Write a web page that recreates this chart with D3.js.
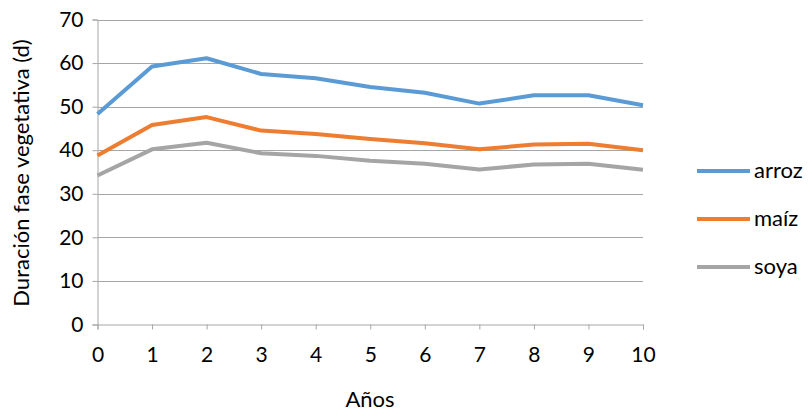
<!DOCTYPE html>
<html>
<head>
<meta charset="utf-8">
<title>Duración fase vegetativa</title>
<script src="https://cdn.jsdelivr.net/npm/d3@7"></script>
<style>
    body { margin: 0; background: #fff; }
    text { font-family: Lato, "Liberation Sans", sans-serif; fill: #000; }
</style>
</head>
<body>
<div id="vis"></div>
<script>
    var years = [0, 1, 2, 3, 4, 5, 6, 7, 8, 9, 10];
    var arroz = [48.3, 59.2, 61.1, 57.5, 56.5, 54.5, 53.2, 50.7, 52.6, 52.6, 50.3];
    var maiz  = [38.8, 45.8, 47.6, 44.5, 43.7, 42.6, 41.6, 40.2, 41.3, 41.5, 40.0];
    var soya  = [34.2, 40.2, 41.7, 39.3, 38.7, 37.6, 36.9, 35.6, 36.7, 36.9, 35.5];
    var seriesNames = ["arroz", "maíz", "soya"];
    var yTicks = [0, 10, 20, 30, 40, 50, 60, 70];

    var series = [
        {name: seriesNames[0], values: arroz, color: "#5b9bd5"},
        {name: seriesNames[1], values: maiz, color: "#ed7d31"},
        {name: seriesNames[2], values: soya, color: "#a5a5a5"}
    ];

    var width = 811, height = 411;
    var plotLeft = 97.5, plotRight = 643, plotTop = 19.5, plotBottom = 324.5;
    var fontSize = 21;

    var svg = d3.select("#vis").append("svg")
        .attr("width", width)
        .attr("height", height);

    var x = d3.scaleLinear().domain([0, 10]).range([plotLeft, plotRight]);
    var y = d3.scaleLinear().domain([0, 70]).range([plotBottom, plotTop]);

    // gridlines
    svg.append("g").selectAll("line")
        .data(yTicks.filter(function(d) { return d > 0; }))
        .enter().append("line")
        .attr("x1", plotLeft).attr("x2", plotRight)
        .attr("y1", function(d) { return Math.round(y(d)) + 0.5; })
        .attr("y2", function(d) { return Math.round(y(d)) + 0.5; })
        .attr("stroke", "#a6a6a6").attr("stroke-width", 1);

    // y axis
    var yAxis = svg.append("g")
        .attr("transform", "translate(" + plotLeft + ",0)")
        .call(d3.axisLeft(y).tickValues(yTicks).tickSize(5).tickPadding(9));
    yAxis.selectAll("path, line").attr("stroke", "#a6a6a6");
    yAxis.selectAll("text").attr("font-size", fontSize).attr("font-family", "Lato, sans-serif");

    // x axis
    var xAxis = svg.append("g")
        .attr("transform", "translate(0," + plotBottom + ")")
        .call(d3.axisBottom(x).tickValues(years).tickSize(5).tickPadding(18).tickFormat(d3.format("d")));
    xAxis.selectAll("path, line").attr("stroke", "#a6a6a6");
    xAxis.selectAll("text").attr("font-size", fontSize).attr("font-family", "Lato, sans-serif");

    var line = d3.line()
        .x(function(d, i) { return x(years[i]); })
        .y(function(d) { return y(d); });

    svg.append("g").selectAll("path")
        .data(series)
        .enter().append("path")
        .attr("d", function(d) { return line(d.values); })
        .attr("fill", "none")
        .attr("stroke", function(d) { return d.color; })
        .attr("stroke-width", 4)
        .attr("stroke-linejoin", "round");

    // legend
    var legend = svg.append("g").selectAll("g")
        .data(series)
        .enter().append("g")
        .attr("transform", function(d, i) { return "translate(697," + (171 + i * 48) + ")"; });
    legend.append("line")
        .attr("x1", 0).attr("x2", 53)
        .attr("stroke", function(d) { return d.color; })
        .attr("stroke-width", 4);
    legend.append("text")
        .attr("x", 57).attr("dy", "0.33em")
        .attr("font-size", 22)
        .text(function(d) { return d.name; });

    // axis titles
    svg.append("text")
        .attr("x", 370).attr("y", 407)
        .attr("text-anchor", "middle")
        .attr("font-size", 22)
        .text("Años");

    svg.append("text")
        .attr("transform", "translate(29,173) rotate(-90)")
        .attr("text-anchor", "middle")
        .attr("font-size", 22)
        .text("Duración fase vegetativa (d)");
</script>
</body>
</html>
